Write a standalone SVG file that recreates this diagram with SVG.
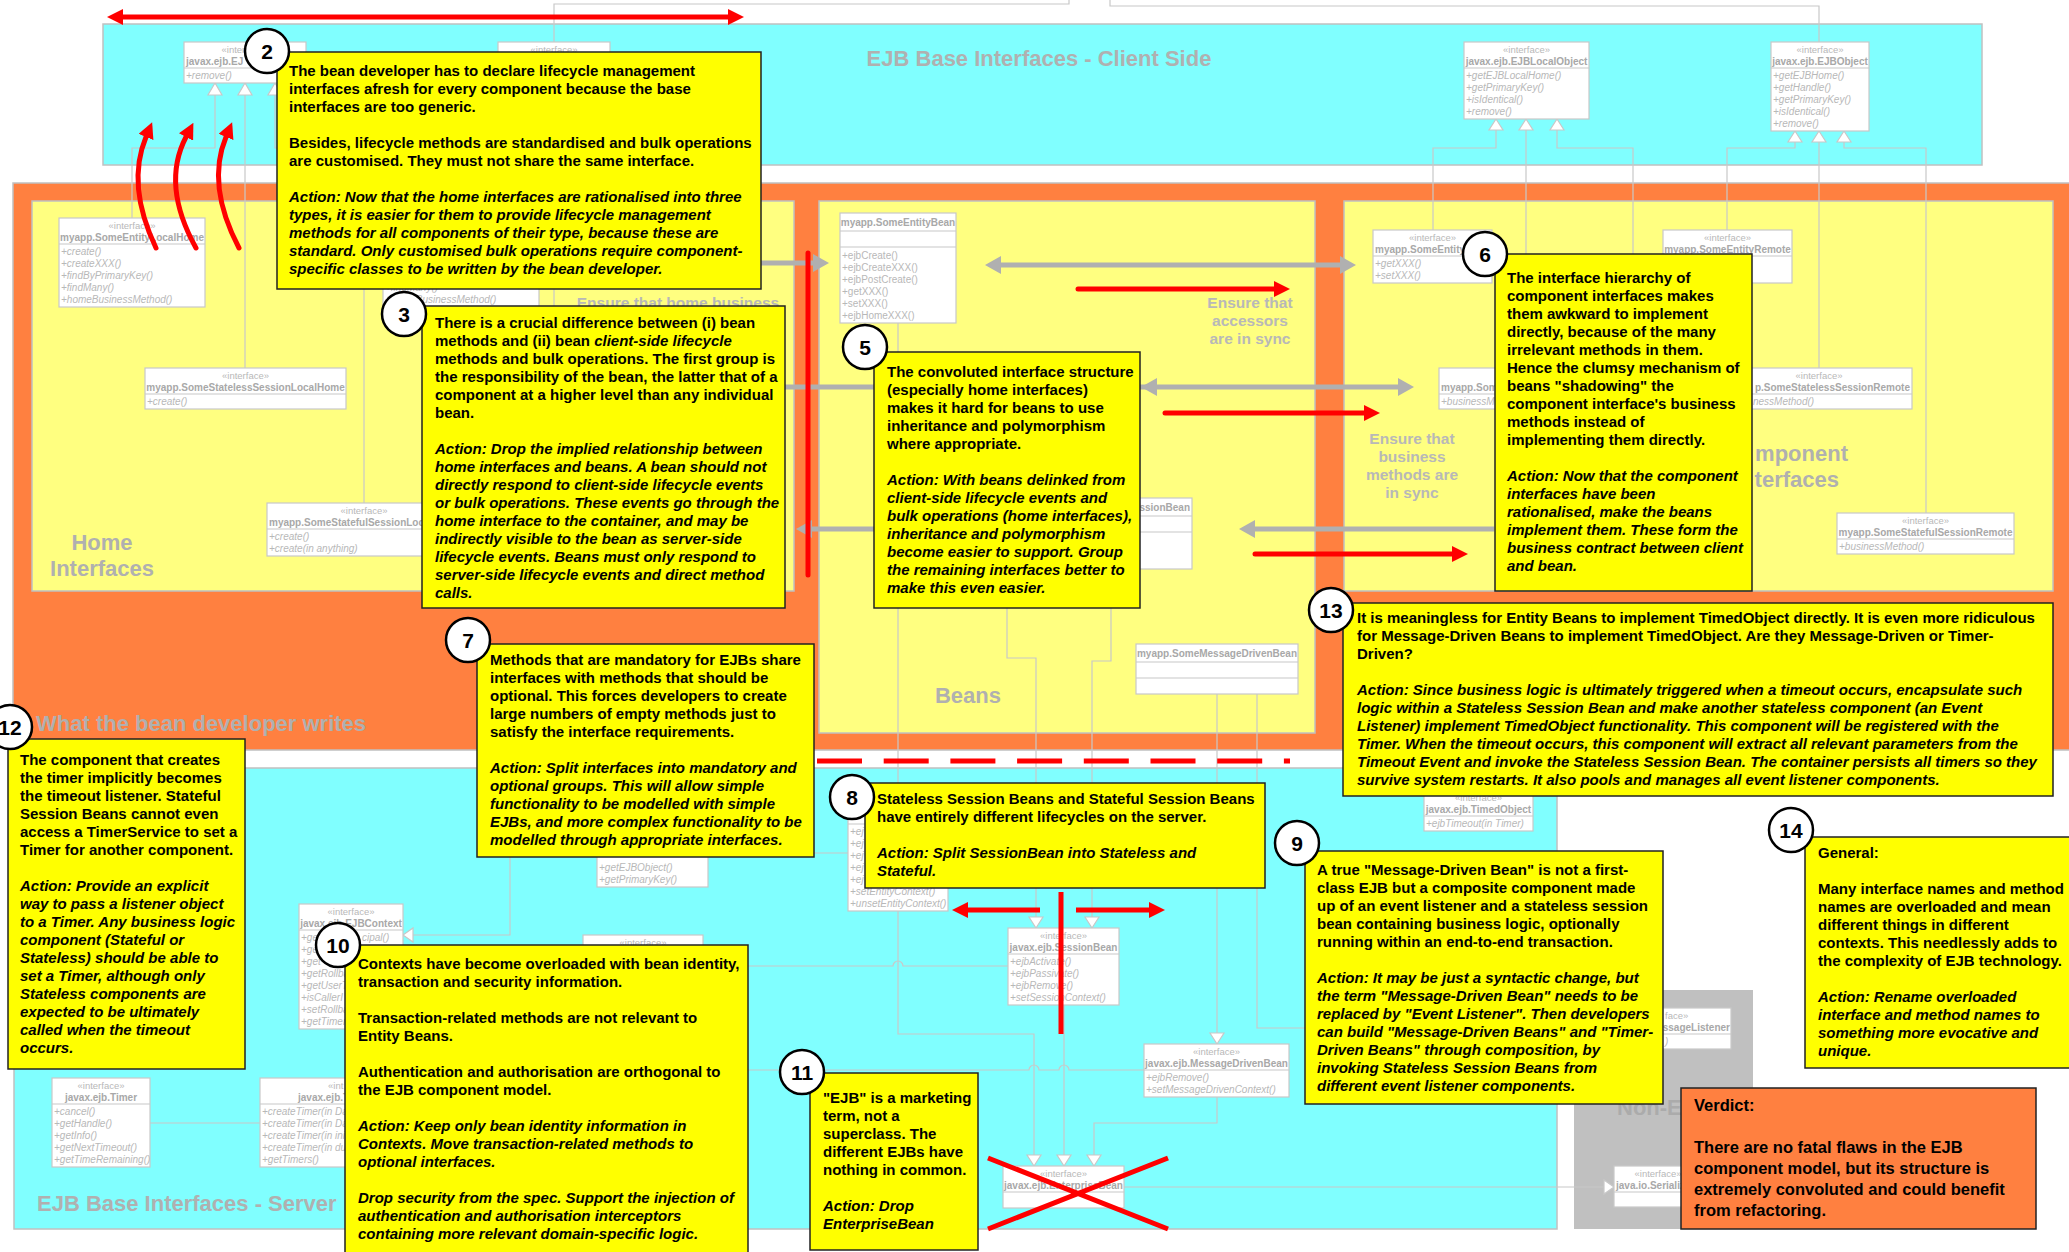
<svg xmlns="http://www.w3.org/2000/svg" width="2069" height="1252" viewBox="0 0 2069 1252">
<defs>
<style>
text{font-family:'Liberation Sans',Arial,Helvetica,sans-serif}
.panel{stroke:#C0C0C0;stroke-width:1.5}
.ptitle{font-size:22px;font-weight:bold;fill:#B0B0B0}
.label{font-size:15.5px;font-weight:bold;fill:#B8B8B8;text-anchor:middle}
.cls rect{fill:#fff;stroke:#C8C8C8;stroke-width:1.2}
.cls line{stroke:#C8C8C8;stroke-width:1.2}
.st{font-size:9.5px;fill:#B8B8B8;text-anchor:middle}
.nm{font-size:10px;font-weight:bold;fill:#A8A8A8;text-anchor:middle}
.md{font-size:10px;font-style:italic;fill:#B8B8B8}
.up{font-style:normal}
.conn path{fill:none;stroke:#C8C8C8;stroke-width:1.2}
.conn polygon{fill:#fff;stroke:#C8C8C8;stroke-width:1.2}
.note rect{fill:#FFFF00;stroke:#222;stroke-width:1.5}
.nt{font-size:15px;font-weight:bold;fill:#000}
.it{font-style:italic}
.badge circle{fill:#fff;stroke:#000;stroke-width:2.5}
.badge text{font-size:21px;font-weight:bold;text-anchor:middle;fill:#000}
.red{fill:none;stroke:#FF0000;stroke-width:5}
.gray{fill:none;stroke:#B0B0B0;stroke-width:5}
</style>
<marker id="rh" markerUnits="userSpaceOnUse" markerWidth="16" markerHeight="16" viewBox="0 0 16 16" refX="0" refY="8" orient="auto-start-reverse"><path d="M0,0 L16,8 L0,16 z" fill="#FF0000"/></marker>
<marker id="gh" markerUnits="userSpaceOnUse" markerWidth="16" markerHeight="18" viewBox="0 0 16 18" refX="0" refY="9" orient="auto-start-reverse"><path d="M0,0 L16,9 L0,18 z" fill="#B0B0B0"/></marker>
</defs>
<rect width="2069" height="1252" fill="#fff"/>

<!-- Panels -->
<g id="panel-client">
<rect class="panel" x="103" y="24" width="1879" height="141" fill="#80FFFF"/>
<text class="ptitle" x="1039" y="66" text-anchor="middle">EJB Base Interfaces - Client Side</text>
</g>
<g id="panel-bean-developer">
<rect class="panel" x="13" y="183" width="2070" height="567" fill="#FF8040"/>
<text class="ptitle" x="36" y="731">What the bean developer writes</text>
</g>
<g id="panel-home">
<rect class="panel" x="32" y="201" width="762" height="390" fill="#FFFF80"/>
<text class="ptitle" x="102" y="550" text-anchor="middle">Home</text>
<text class="ptitle" x="102" y="576" text-anchor="middle">Interfaces</text>
</g>
<g id="panel-beans">
<rect class="panel" x="819" y="201" width="496" height="532" fill="#FFFF80"/>
<text class="ptitle" x="968" y="703" text-anchor="middle">Beans</text>
</g>
<g id="panel-component">
<rect class="panel" x="1344" y="201" width="709" height="390" fill="#FFFF80"/>
<text class="ptitle" x="1848" y="461" text-anchor="end">mponent</text>
<text class="ptitle" x="1839" y="487" text-anchor="end">terfaces</text>
</g>
<g id="panel-server">
<rect class="panel" x="14" y="768" width="1543" height="461" fill="#80FFFF"/>
<text class="ptitle" x="37" y="1211">EJB Base Interfaces - Server</text>
</g>
<g id="panel-nonejb">
<rect x="1574" y="990" width="179" height="239" fill="#C0C0C0"/>
<text class="ptitle" x="1617" y="1115" style="fill:#ABABAB">Non-E</text>
</g>

<g id="labels">
<text class="label" x="678" y="308">Ensure that home business</text>
<text class="label" x="1250" y="308">Ensure that</text>
<text class="label" x="1250" y="326">accessors</text>
<text class="label" x="1250" y="344">are in sync</text>
<text class="label" x="1412" y="444">Ensure that</text>
<text class="label" x="1412" y="462">business</text>
<text class="label" x="1412" y="480">methods are</text>
<text class="label" x="1412" y="498">in sync</text>
</g>

<!-- Connectors -->
<g id="connectors" class="conn">
<path d="M554,42 V4 H1069 V0"/>
<path d="M1110,0 V6 H1819 V42"/>
<path d="M215,95 V148 H132 V218"/>
<path d="M245,95 V368"/>
<path d="M275,95 V148 H364 V503"/>
<path d="M530,119 V148 H461 V218"/>
<path d="M554,119 V330"/>
<path d="M1496,130 V148 H1433 V230"/>
<path d="M1526,130 V368"/>
<path d="M1557,130 V148 H1633 V300"/>
<path d="M1795,142 V148 H1727 V230"/>
<path d="M1819,142 V368"/>
<path d="M1844,142 V148 H1926 V513"/>
<path d="M898,323 V787"/>
<path d="M898,911 V1034 H1034 V1155"/>
<path d="M1007,600 V658 H1036 V917"/>
<path d="M1111,600 V661 H1092 V917"/>
<path d="M1064,1005 V1155"/>
<path d="M1217,694 V1033"/>
<path d="M1217,1097 V1123 H1094 V1155"/>
<path d="M1257,694 V1028 H1599"/>
<path d="M1124,1187 H1604"/>
<path d="M748,966 H893 A5,5 0 0 1 903,966 H1008"/>
<path d="M748,1070 H1029 A5,5 0 0 1 1039,1070 H1059 A5,5 0 0 1 1069,1070 H1144"/>
<path d="M413,935 H510 V845"/>
<path d="M150,1123 H260"/>
<path d="M708,853 H848"/>
<polygon points="215,83 208,95 222,95"/>
<polygon points="245,83 238,95 252,95"/>
<polygon points="275,83 268,95 282,95"/>
<polygon points="1496,119 1489,130 1503,130"/>
<polygon points="1526,119 1519,130 1533,130"/>
<polygon points="1557,119 1550,130 1564,130"/>
<polygon points="1795,131 1788,142 1802,142"/>
<polygon points="1819,131 1812,142 1826,142"/>
<polygon points="1844,131 1837,142 1851,142"/>
<polygon points="898,798 891,787 905,787"/>
<polygon points="1036,928 1029,917 1043,917"/>
<polygon points="1092,928 1085,917 1099,917"/>
<polygon points="1217,1044 1210,1033 1224,1033"/>
<polygon points="1034,1166 1027,1155 1041,1155"/>
<polygon points="1064,1166 1057,1155 1071,1155"/>
<polygon points="1094,1166 1087,1155 1101,1155"/>
<polygon points="1614,1187 1604,1180 1604,1194"/>
<polygon points="403,935 413,928 413,942"/>
</g>

<!-- Class boxes -->
<g id="EJBLocalHome" class="cls"><rect x="184" y="42" width="122" height="41"/><line x1="184" y1="68" x2="306" y2="68"/><text class="st" x="221.5" y="52.5" style="text-anchor:start">«inter</text><text class="nm" x="186" y="64.5" style="text-anchor:start">javax.ejb.EJ</text><text class="md" x="186" y="78.5">+remove()</text></g>
<g id="EJBHome" class="cls"><rect x="498" y="42" width="112" height="65"/><line x1="498" y1="68" x2="610" y2="68"/><text class="st" x="554" y="52.5">«interface»</text></g>
<g id="EJBLocalObject" class="cls"><rect x="1464" y="42" width="125" height="77"/><line x1="1464" y1="68" x2="1589" y2="68"/><text class="st" x="1526.5" y="52.5">«interface»</text><text class="nm" x="1526.5" y="64.5">javax.ejb.EJBLocalObject</text><text class="md" x="1466" y="78.5">+getEJBLocalHome()</text><text class="md" x="1466" y="90.5">+getPrimaryKey()</text><text class="md" x="1466" y="102.5">+isIdentical()</text><text class="md" x="1466" y="114.5">+remove()</text></g>
<g id="EJBObject" class="cls"><rect x="1771" y="42" width="98" height="89"/><line x1="1771" y1="68" x2="1869" y2="68"/><text class="st" x="1820" y="52.5">«interface»</text><text class="nm" x="1820" y="64.5">javax.ejb.EJBObject</text><text class="md" x="1773" y="78.5">+getEJBHome()</text><text class="md" x="1773" y="90.5">+getHandle()</text><text class="md" x="1773" y="102.5">+getPrimaryKey()</text><text class="md" x="1773" y="114.5">+isIdentical()</text><text class="md" x="1773" y="126.5">+remove()</text></g>
<g id="SomeEntityLocalHome" class="cls"><rect x="59" y="218" width="146" height="89"/><line x1="59" y1="244" x2="205" y2="244"/><text class="st" x="132" y="228.5">«interface»</text><text class="nm" x="132" y="240.5">myapp.SomeEntityLocalHome</text><text class="md" x="61" y="254.5">+create()</text><text class="md" x="61" y="266.5">+createXXX()</text><text class="md" x="61" y="278.5">+findByPrimaryKey()</text><text class="md" x="61" y="290.5">+findMany()</text><text class="md" x="61" y="302.5">+homeBusinessMethod()</text></g>
<g id="SomeEntityHome" class="cls"><rect x="383" y="218" width="156" height="89"/><line x1="383" y1="244" x2="539" y2="244"/><text class="md" x="385" y="290.5">+findMany()</text><text class="md" x="385" y="302.5">+homeBusinessMethod()</text></g>
<g id="SomeStatelessSessionLocalHome" class="cls"><rect x="145" y="368" width="201" height="41"/><line x1="145" y1="394" x2="346" y2="394"/><text class="st" x="245.5" y="378.5">«interface»</text><text class="nm" x="245.5" y="390.5">myapp.SomeStatelessSessionLocalHome</text><text class="md" x="147" y="404.5">+create()</text></g>
<g id="SomeStatefulSessionLocalHome" class="cls"><rect x="267" y="503" width="194" height="53"/><line x1="267" y1="529" x2="461" y2="529"/><text class="st" x="364" y="513.5">«interface»</text><text class="nm" x="269" y="525.5" style="text-anchor:start">myapp.SomeStatefulSessionLoc</text><text class="md" x="269" y="539.5">+create()</text><text class="md" x="269" y="551.5">+create(in anything)</text></g>
<g id="SomeEntityBean" class="cls"><rect x="840" y="213" width="116" height="110"/><line x1="840" y1="231" x2="956" y2="231"/><line x1="840" y1="247" x2="956" y2="247"/><text class="nm" x="898" y="225.5">myapp.SomeEntityBean</text><text class="md up" x="842" y="258.5">+ejbCreate()</text><text class="md up" x="842" y="270.5">+ejbCreateXXX()</text><text class="md up" x="842" y="282.5">+ejbPostCreate()</text><text class="md up" x="842" y="294.5">+getXXX()</text><text class="md up" x="842" y="306.5">+setXXX()</text><text class="md up" x="842" y="318.5">+ejbHomeXXX()</text></g>
<g id="SomeStatelessSessionBean" class="cls"><rect x="1040" y="498" width="152" height="71"/><line x1="1040" y1="516" x2="1192" y2="516"/><line x1="1040" y1="532" x2="1192" y2="532"/><text class="nm" x="1190" y="510.5" style="text-anchor:end">ssionBean</text></g>
<g id="SomeMessageDrivenBean" class="cls"><rect x="1136" y="644" width="162" height="50"/><line x1="1136" y1="662" x2="1298" y2="662"/><line x1="1136" y1="678" x2="1298" y2="678"/><text class="nm" x="1217" y="656.5">myapp.SomeMessageDrivenBean</text></g>
<g id="SomeEntityLocal" class="cls"><rect x="1373" y="230" width="119" height="53"/><line x1="1373" y1="256" x2="1492" y2="256"/><text class="st" x="1432.5" y="240.5">«interface»</text><text class="nm" x="1375" y="252.5" style="text-anchor:start">myapp.SomeEntity</text><text class="md" x="1375" y="266.5">+getXXX()</text><text class="md" x="1375" y="278.5">+setXXX()</text></g>
<g id="SomeEntityRemote" class="cls"><rect x="1663" y="230" width="129" height="53"/><line x1="1663" y1="256" x2="1792" y2="256"/><text class="st" x="1727.5" y="240.5">«interface»</text><text class="nm" x="1727.5" y="252.5">myapp.SomeEntityRemote</text></g>
<g id="SomeStatelessSessionLocal" class="cls"><rect x="1439" y="368" width="174" height="41"/><line x1="1439" y1="394" x2="1613" y2="394"/><text class="nm" x="1441" y="390.5" style="text-anchor:start">myapp.Som</text><text class="md" x="1441" y="404.5">+businessM</text></g>
<g id="SomeStatelessSessionRemote" class="cls"><rect x="1726" y="368" width="186" height="41"/><line x1="1726" y1="394" x2="1912" y2="394"/><text class="st" x="1819" y="378.5">«interface»</text><text class="nm" x="1910" y="390.5" style="text-anchor:end">p.SomeStatelessSessionRemote</text><text class="md" x="1753" y="404.5">nessMethod()</text></g>
<g id="SomeStatefulSessionRemote" class="cls"><rect x="1837" y="513" width="177" height="41"/><line x1="1837" y1="539" x2="2014" y2="539"/><text class="st" x="1925.5" y="523.5">«interface»</text><text class="nm" x="1925.5" y="535.5">myapp.SomeStatefulSessionRemote</text><text class="md" x="1839" y="549.5">+businessMethod()</text></g>
<g id="EntityContext" class="cls"><rect x="597" y="822" width="111" height="65"/><line x1="597" y1="848" x2="708" y2="848"/><text class="md" x="599" y="870.5">+getEJBObject()</text><text class="md" x="599" y="882.5">+getPrimaryKey()</text></g>
<g id="EntityBean" class="cls"><rect x="848" y="798" width="100" height="113"/><line x1="848" y1="824" x2="948" y2="824"/><text class="md" x="850" y="834.5">+ej</text><text class="md" x="850" y="846.5">+ej</text><text class="md" x="850" y="858.5">+ej</text><text class="md" x="850" y="870.5">+ej</text><text class="md" x="850" y="882.5">+ej</text><text class="md" x="850" y="894.5">+setEntityContext()</text><text class="md" x="850" y="906.5">+unsetEntityContext()</text></g>
<g id="EJBContext" class="cls"><rect x="299" y="904" width="104" height="125"/><line x1="299" y1="930" x2="403" y2="930"/><text class="st" x="351" y="914.5">«interface»</text><text class="nm" x="351" y="926.5">javax.ejb.EJBContext</text><text class="md" x="301" y="940.5">+ge</text><text class="md" x="362" y="940.5">cipal()</text><text class="md" x="301" y="952.5">+ge</text><text class="md" x="301" y="964.5">+get</text><text class="md" x="301" y="976.5">+getRollba</text><text class="md" x="301" y="988.5">+getUserT</text><text class="md" x="301" y="1000.5">+isCallerI</text><text class="md" x="301" y="1012.5">+setRollba</text><text class="md" x="301" y="1024.5">+getTimer</text></g>
<g id="SessionContext" class="cls"><rect x="583" y="935" width="120" height="65"/><line x1="583" y1="961" x2="703" y2="961"/><text class="st" x="643" y="945.5">«interface»</text></g>
<g id="Timer" class="cls"><rect x="52" y="1078" width="98" height="89"/><line x1="52" y1="1104" x2="150" y2="1104"/><text class="st" x="101" y="1088.5">«interface»</text><text class="nm" x="101" y="1100.5">javax.ejb.Timer</text><text class="md" x="54" y="1114.5">+cancel()</text><text class="md" x="54" y="1126.5">+getHandle()</text><text class="md" x="54" y="1138.5">+getInfo()</text><text class="md" x="54" y="1150.5">+getNextTimeout()</text><text class="md" x="54" y="1162.5">+getTimeRemaining()</text></g>
<g id="TimerService" class="cls"><rect x="260" y="1078" width="186" height="89"/><line x1="260" y1="1104" x2="446" y2="1104"/><text class="st" x="328" y="1088.5" style="text-anchor:start">«int</text><text class="nm" x="298" y="1100.5" style="text-anchor:start">javax.ejb.T</text><text class="md" x="262" y="1114.5">+createTimer(in Da</text><text class="md" x="262" y="1126.5">+createTimer(in Da</text><text class="md" x="262" y="1138.5">+createTimer(in ini</text><text class="md" x="262" y="1150.5">+createTimer(in du</text><text class="md" x="262" y="1162.5">+getTimers()</text></g>
<g id="SessionBean" class="cls"><rect x="1008" y="928" width="111" height="77"/><line x1="1008" y1="954" x2="1119" y2="954"/><text class="st" x="1063.5" y="938.5">«interface»</text><text class="nm" x="1063.5" y="950.5">javax.ejb.SessionBean</text><text class="md" x="1010" y="964.5">+ejbActivate()</text><text class="md" x="1010" y="976.5">+ejbPassivate()</text><text class="md" x="1010" y="988.5">+ejbRemove()</text><text class="md" x="1010" y="1000.5">+setSessionContext()</text></g>
<g id="MessageDrivenBean" class="cls"><rect x="1144" y="1044" width="145" height="53"/><line x1="1144" y1="1070" x2="1289" y2="1070"/><text class="st" x="1216.5" y="1054.5">«interface»</text><text class="nm" x="1216.5" y="1066.5">javax.ejb.MessageDrivenBean</text><text class="md" x="1146" y="1080.5">+ejbRemove()</text><text class="md" x="1146" y="1092.5">+setMessageDrivenContext()</text></g>
<g id="EnterpriseBean" class="cls"><rect x="1003" y="1166" width="121" height="42"/><line x1="1003" y1="1192" x2="1124" y2="1192"/><text class="st" x="1063.5" y="1176.5">«interface»</text><text class="nm" x="1063.5" y="1188.5">javax.ejb.EnterpriseBean</text></g>
<g id="TimedObject" class="cls"><rect x="1424" y="790" width="109" height="41"/><line x1="1424" y1="816" x2="1533" y2="816"/><text class="st" x="1478.5" y="800.5">«interface»</text><text class="nm" x="1478.5" y="812.5">javax.ejb.TimedObject</text><text class="md" x="1426" y="826.5">+ejbTimeout(in Timer)</text></g>
<g id="MessageListener" class="cls"><rect x="1599" y="1008" width="132" height="41"/><line x1="1599" y1="1034" x2="1731" y2="1034"/><text class="st" x="1665" y="1018.5" style="text-anchor:start">face»</text><text class="nm" x="1730" y="1030.5" style="text-anchor:end">ssageListener</text><text class="md" x="1665" y="1044.5">)</text></g>
<g id="Serializable" class="cls"><rect x="1614" y="1166" width="92" height="41"/><line x1="1614" y1="1192" x2="1706" y2="1192"/><text class="st" x="1658" y="1176.5">«interface»</text><text class="nm" x="1616" y="1188.5" style="text-anchor:start">java.io.Serializ</text></g>

<!-- Thick arrows -->
<g id="sync-arrows">
<path class="gray" d="M540,263 H813" marker-end="url(#gh)"/>
<path class="gray" d="M1001,265 H1340" marker-start="url(#gh)" marker-end="url(#gh)"/>
<path class="gray" d="M785,387 H1398" marker-end="url(#gh)"/>
<polygon points="1141,387 1157,378 1157,396" fill="#B0B0B0"/>
<path class="gray" d="M874,529 H812" marker-end="url(#gh)"/>
<path class="gray" d="M1494,529 H1255" marker-end="url(#gh)"/>
</g>
<g id="red-marks">
<path class="red" d="M123,17 H728" marker-start="url(#rh)" marker-end="url(#rh)"/>
<path class="red" d="M156,248 Q126,185 146,137" stroke-linecap="round" marker-end="url(#rh)"/>
<path class="red" d="M196,248 Q161,185 186,137" stroke-linecap="round" marker-end="url(#rh)"/>
<path class="red" d="M239,248 Q206,185 226,137" stroke-linecap="round" marker-end="url(#rh)"/>
<path class="red" d="M1078,289 H1274" stroke-linecap="round" marker-end="url(#rh)"/>
<path class="red" d="M1165,413 H1364" stroke-linecap="round" marker-end="url(#rh)"/>
<path class="red" d="M1255,554 H1452" stroke-linecap="round" marker-end="url(#rh)"/>
<path class="red" d="M808,253 V575" stroke-linecap="round"/>
<path class="red" d="M1061,892 V1034"/>
<path class="red" d="M1040,910 H968" marker-end="url(#rh)"/>
<path class="red" d="M1076,910 H1149" marker-end="url(#rh)"/>
<path class="red" d="M817,761 H1290" stroke-dasharray="45 21.7"/>
<path class="red" d="M988,1158 L1168,1229 M988,1229 L1168,1158" stroke-width="6"/>
</g>

<!-- Notes -->
<g id="note2" class="note">
<rect x="277" y="52" width="484" height="237"/>
<text class="nt"><tspan x="289" y="76">The bean developer has to declare lifecycle management</tspan><tspan x="289" y="94">interfaces afresh for every component because the base</tspan><tspan x="289" y="112">interfaces are too generic.</tspan><tspan x="289" y="148">Besides, lifecycle methods are standardised and bulk operations</tspan><tspan x="289" y="166">are customised. They must not share the same interface.</tspan><tspan class="it" x="289" y="202">Action: Now that the home interfaces are rationalised into three</tspan><tspan class="it" x="289" y="220">types, it is easier for them to provide lifecycle management</tspan><tspan class="it" x="289" y="238">methods for all components of their type, because these are</tspan><tspan class="it" x="289" y="256">standard. Only customised bulk operations require component-</tspan><tspan class="it" x="289" y="274">specific classes to be written by the bean developer.</tspan></text>
</g>
<g id="note3" class="note">
<rect x="422" y="306" width="363" height="302"/>
<text class="nt"><tspan x="435" y="328">There is a crucial difference between (i) bean</tspan><tspan x="435" y="346">methods and (ii) bean <tspan class="it">client-side lifecycle</tspan></tspan><tspan x="435" y="364">methods and bulk operations. The first group is</tspan><tspan x="435" y="382">the responsibility of the bean, the latter that of a</tspan><tspan x="435" y="400">component at a higher level than any individual</tspan><tspan x="435" y="418">bean.</tspan><tspan class="it" x="435" y="454">Action: Drop the implied relationship between</tspan><tspan class="it" x="435" y="472">home interfaces and beans. A bean should not</tspan><tspan class="it" x="435" y="490">directly respond to client-side lifecycle events</tspan><tspan class="it" x="435" y="508">or bulk operations. These events go through the</tspan><tspan class="it" x="435" y="526">home interface to the container, and may be</tspan><tspan class="it" x="435" y="544">indirectly visible to the bean as server-side</tspan><tspan class="it" x="435" y="562">lifecycle events. Beans must only respond to</tspan><tspan class="it" x="435" y="580">server-side lifecycle events and direct method</tspan><tspan class="it" x="435" y="598">calls.</tspan></text>
</g>
<g id="note5" class="note">
<rect x="874" y="352" width="266" height="256"/>
<text class="nt"><tspan x="887" y="377">The convoluted interface structure</tspan><tspan x="887" y="395">(especially home interfaces)</tspan><tspan x="887" y="413">makes it hard for beans to use</tspan><tspan x="887" y="431">inheritance and polymorphism</tspan><tspan x="887" y="449">where appropriate.</tspan><tspan class="it" x="887" y="485">Action: With beans delinked from</tspan><tspan class="it" x="887" y="503">client-side lifecycle events and</tspan><tspan class="it" x="887" y="521">bulk operations (home interfaces),</tspan><tspan class="it" x="887" y="539">inheritance and polymorphism</tspan><tspan class="it" x="887" y="557">become easier to support. Group</tspan><tspan class="it" x="887" y="575">the remaining interfaces better to</tspan><tspan class="it" x="887" y="593">make this even easier.</tspan></text>
</g>
<g id="note6" class="note">
<rect x="1495" y="254" width="257" height="337"/>
<text class="nt"><tspan x="1507" y="283">The interface hierarchy of</tspan><tspan x="1507" y="301">component interfaces makes</tspan><tspan x="1507" y="319">them awkward to implement</tspan><tspan x="1507" y="337">directly, because of the many</tspan><tspan x="1507" y="355">irrelevant methods in them.</tspan><tspan x="1507" y="373">Hence the clumsy mechanism of</tspan><tspan x="1507" y="391">beans "shadowing" the</tspan><tspan x="1507" y="409">component interface's business</tspan><tspan x="1507" y="427">methods instead of</tspan><tspan x="1507" y="445">implementing them directly.</tspan><tspan class="it" x="1507" y="481">Action: Now that the component</tspan><tspan class="it" x="1507" y="499">interfaces have been</tspan><tspan class="it" x="1507" y="517">rationalised, make the beans</tspan><tspan class="it" x="1507" y="535">implement them. These form the</tspan><tspan class="it" x="1507" y="553">business contract between client</tspan><tspan class="it" x="1507" y="571">and bean.</tspan></text>
</g>
<g id="note7" class="note">
<rect x="477" y="644" width="337" height="213"/>
<text class="nt"><tspan x="490" y="665">Methods that are mandatory for EJBs share</tspan><tspan x="490" y="683">interfaces with methods that should be</tspan><tspan x="490" y="701">optional. This forces developers to create</tspan><tspan x="490" y="719">large numbers of empty methods just to</tspan><tspan x="490" y="737">satisfy the interface requirements.</tspan><tspan class="it" x="490" y="773">Action: Split interfaces into mandatory and</tspan><tspan class="it" x="490" y="791">optional groups. This will allow simple</tspan><tspan class="it" x="490" y="809">functionality to be modelled with simple</tspan><tspan class="it" x="490" y="827">EJBs, and more complex functionality to be</tspan><tspan class="it" x="490" y="845">modelled through appropriate interfaces.</tspan></text>
</g>
<g id="note8" class="note">
<rect x="865" y="783" width="400" height="105"/>
<text class="nt"><tspan x="877" y="804">Stateless Session Beans and Stateful Session Beans</tspan><tspan x="877" y="822">have entirely different lifecycles on the server.</tspan><tspan class="it" x="877" y="858">Action: Split SessionBean into Stateless and</tspan><tspan class="it" x="877" y="876">Stateful.</tspan></text>
</g>
<g id="note9" class="note">
<rect x="1305" y="851" width="358" height="253"/>
<text class="nt"><tspan x="1317" y="875">A true "Message-Driven Bean" is not a first-</tspan><tspan x="1317" y="893">class EJB but a composite component made</tspan><tspan x="1317" y="911">up of an event listener and a stateless session</tspan><tspan x="1317" y="929">bean containing business logic, optionally</tspan><tspan x="1317" y="947">running within an end-to-end transaction.</tspan><tspan class="it" x="1317" y="983">Action: It may be just a syntactic change, but</tspan><tspan class="it" x="1317" y="1001">the term "Message-Driven Bean" needs to be</tspan><tspan class="it" x="1317" y="1019">replaced by "Event Listener". Then developers</tspan><tspan class="it" x="1317" y="1037">can build "Message-Driven Beans" and "Timer-</tspan><tspan class="it" x="1317" y="1055">Driven Beans" through composition, by</tspan><tspan class="it" x="1317" y="1073">invoking Stateless Session Beans from</tspan><tspan class="it" x="1317" y="1091">different event listener components.</tspan></text>
</g>
<g id="note10" class="note">
<rect x="345" y="945" width="403" height="315"/>
<text class="nt"><tspan x="358" y="969">Contexts have become overloaded with bean identity,</tspan><tspan x="358" y="987">transaction and security information.</tspan><tspan x="358" y="1023">Transaction-related methods are not relevant to</tspan><tspan x="358" y="1041">Entity Beans.</tspan><tspan x="358" y="1077">Authentication and authorisation are orthogonal to</tspan><tspan x="358" y="1095">the EJB component model.</tspan><tspan class="it" x="358" y="1131">Action: Keep only bean identity information in</tspan><tspan class="it" x="358" y="1149">Contexts. Move transaction-related methods to</tspan><tspan class="it" x="358" y="1167">optional interfaces.</tspan><tspan class="it" x="358" y="1203">Drop security from the spec. Support the injection of</tspan><tspan class="it" x="358" y="1221">authentication and authorisation interceptors</tspan><tspan class="it" x="358" y="1239">containing more relevant domain-specific logic.</tspan></text>
</g>
<g id="note11" class="note">
<rect x="810" y="1073" width="168" height="177"/>
<text class="nt"><tspan x="823" y="1103">"EJB" is a marketing</tspan><tspan x="823" y="1121">term, not a</tspan><tspan x="823" y="1139">superclass. The</tspan><tspan x="823" y="1157">different EJBs have</tspan><tspan x="823" y="1175">nothing in common.</tspan><tspan class="it" x="823" y="1211">Action: Drop</tspan><tspan class="it" x="823" y="1229">EnterpriseBean</tspan></text>
</g>
<g id="note12" class="note">
<rect x="8" y="739" width="237" height="330"/>
<text class="nt"><tspan x="20" y="765">The component that creates</tspan><tspan x="20" y="783">the timer implicitly becomes</tspan><tspan x="20" y="801">the timeout listener. Stateful</tspan><tspan x="20" y="819">Session Beans cannot even</tspan><tspan x="20" y="837">access a TimerService to set a</tspan><tspan x="20" y="855">Timer for another component.</tspan><tspan class="it" x="20" y="891">Action: Provide an explicit</tspan><tspan class="it" x="20" y="909">way to pass a listener object</tspan><tspan class="it" x="20" y="927">to a Timer. Any business logic</tspan><tspan class="it" x="20" y="945">component (Stateful or</tspan><tspan class="it" x="20" y="963">Stateless) should be able to</tspan><tspan class="it" x="20" y="981">set a Timer, although only</tspan><tspan class="it" x="20" y="999">Stateless components are</tspan><tspan class="it" x="20" y="1017">expected to be ultimately</tspan><tspan class="it" x="20" y="1035">called when the timeout</tspan><tspan class="it" x="20" y="1053">occurs.</tspan></text>
</g>
<g id="note13" class="note">
<rect x="1343" y="603" width="710" height="193"/>
<text class="nt"><tspan x="1357" y="623">It is meaningless for Entity Beans to implement TimedObject directly. It is even more ridiculous</tspan><tspan x="1357" y="641">for Message-Driven Beans to implement TimedObject. Are they Message-Driven or Timer-</tspan><tspan x="1357" y="659">Driven?</tspan><tspan class="it" x="1357" y="695">Action: Since business logic is ultimately triggered when a timeout occurs, encapsulate such</tspan><tspan class="it" x="1357" y="713">logic within a Stateless Session Bean and make another stateless component (an Event</tspan><tspan class="it" x="1357" y="731">Listener) implement TimedObject functionality. This component will be registered with the</tspan><tspan class="it" x="1357" y="749">Timer. When the timeout occurs, this component will extract all relevant parameters from the</tspan><tspan class="it" x="1357" y="767">Timeout Event and invoke the Stateless Session Bean. The container persists all timers so they</tspan><tspan class="it" x="1357" y="785">survive system restarts. It also pools and manages all event listener components.</tspan></text>
</g>
<g id="note14" class="note">
<rect x="1805" y="837" width="270" height="231"/>
<text class="nt"><tspan x="1818" y="858">General:</tspan><tspan x="1818" y="894">Many interface names and method</tspan><tspan x="1818" y="912">names are overloaded and mean</tspan><tspan x="1818" y="930">different things in different</tspan><tspan x="1818" y="948">contexts. This needlessly adds to</tspan><tspan x="1818" y="966">the complexity of EJB technology.</tspan><tspan class="it" x="1818" y="1002">Action: Rename overloaded</tspan><tspan class="it" x="1818" y="1020">interface and method names to</tspan><tspan class="it" x="1818" y="1038">something more evocative and</tspan><tspan class="it" x="1818" y="1056">unique.</tspan></text>
</g>
<g id="verdict">
<rect x="1681" y="1088" width="355" height="141" fill="#FF8040" stroke="#222" stroke-width="1.5"/>
<text class="nt" style="font-size:16.5px"><tspan x="1694" y="1111">Verdict:</tspan><tspan x="1694" y="1153">There are no fatal flaws in the EJB</tspan><tspan x="1694" y="1174">component model, but its structure is</tspan><tspan x="1694" y="1195">extremely convoluted and could benefit</tspan><tspan x="1694" y="1216">from refactoring.</tspan></text>
</g>

<!-- Badges -->
<g id="badge2" class="badge"><circle cx="267" cy="51" r="22"/><text x="267" y="58.5">2</text></g>
<g id="badge3" class="badge"><circle cx="404" cy="314" r="22"/><text x="404" y="321.5">3</text></g>
<g id="badge5" class="badge"><circle cx="865" cy="347" r="22"/><text x="865" y="354.5">5</text></g>
<g id="badge6" class="badge"><circle cx="1485" cy="254" r="22"/><text x="1485" y="261.5">6</text></g>
<g id="badge7" class="badge"><circle cx="468" cy="640" r="22"/><text x="468" y="647.5">7</text></g>
<g id="badge8" class="badge"><circle cx="852" cy="797" r="22"/><text x="852" y="804.5">8</text></g>
<g id="badge9" class="badge"><circle cx="1297" cy="843" r="22"/><text x="1297" y="850.5">9</text></g>
<g id="badge10" class="badge"><circle cx="338" cy="945" r="22"/><text x="338" y="952.5">10</text></g>
<g id="badge11" class="badge"><circle cx="802" cy="1072" r="22"/><text x="802" y="1079.5">11</text></g>
<g id="badge12" class="badge"><circle cx="10" cy="727" r="22"/><text x="10" y="734.5">12</text></g>
<g id="badge13" class="badge"><circle cx="1331" cy="610" r="22"/><text x="1331" y="617.5">13</text></g>
<g id="badge14" class="badge"><circle cx="1791" cy="830" r="22"/><text x="1791" y="837.5">14</text></g>
</svg>
